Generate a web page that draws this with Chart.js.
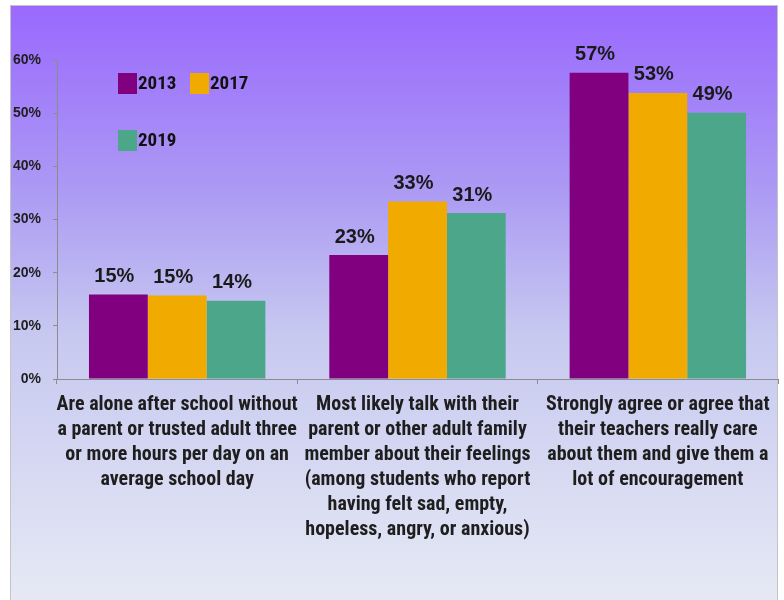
<!DOCTYPE html>
<html>
<head>
<meta charset="utf-8">
<script src="https://cdn.jsdelivr.net/npm/chart.js@4/dist/chart.umd.min.js"></script>
<style>
  html, body { margin: 0; padding: 0; background: #fff; }
  #wrap { width: 784px; height: 600px; position: relative; }
</style>
</head>
<body>
<div id="wrap"><canvas id="chart" width="784" height="600"></canvas></div>
<script>
const categories = [
  ['Are alone after school without', 'a parent or trusted adult three', 'or more hours per day on an', 'average school day'],
  ['Most likely talk with their', 'parent or other adult family', 'member about their feelings', '(among students who report', 'having felt sad, empty,', 'hopeless, angry, or anxious)'],
  ['Strongly agree or agree that', 'their teachers really care', 'about them and give them a', 'lot of encouragement']
];
const years = ['2013', '2017', '2019'];
const values2013 = [15.9, 23.3, 57.6];
const values2017 = [15.7, 33.4, 53.8];
const values2019 = [14.7, 31.2, 50.1];
// printed labels as they appear above the bars
const labels2013 = ['15%', '23%', '57%'];
const labels2017 = ['15%', '33%', '53%'];
const labels2019 = ['14%', '31%', '49%'];
const barColors = ['#800080', '#f0aa00', '#4ca68a'];

const narrow = "'Liberation Sans Narrow', 'Arial Narrow', 'Roboto Condensed', 'Liberation Sans', sans-serif";
const wide = "'Liberation Sans', Arial, sans-serif";

const panelBg = {
  id: 'panelBg',
  beforeDraw(chart) {
    const c = chart.ctx;
    c.save();
    c.fillStyle = '#fff';
    c.fillRect(0, 0, chart.width, chart.height);
    const g = c.createLinearGradient(0, 5, 0, 600);
    g.addColorStop(0, '#9a68fe');
    g.addColorStop(0.3, '#ab98f4');
    g.addColorStop(0.55, '#c6c8f0');
    g.addColorStop(1, '#e6e9f4');
    c.fillStyle = g;
    c.fillRect(10, 5, 768, 595);
    c.strokeStyle = '#c4c4c4';
    c.lineWidth = 1;
    c.strokeRect(10.5, 5.5, 767, 600);
    c.restore();
  }
};

const barLabels = {
  id: 'barLabels',
  afterDatasetsDraw(chart) {
    const c = chart.ctx;
    const texts = [labels2013, labels2017, labels2019];
    c.save();
    c.font = "bold 20px " + wide;
    c.fillStyle = '#1a1a1a';
    c.textAlign = 'center';
    c.textBaseline = 'bottom';
    chart.data.datasets.forEach((ds, i) => {
      chart.getDatasetMeta(i).data.forEach((bar, j) => {
        c.fillText(texts[i][j], bar.x - 4, bar.y - 8);
      });
    });
    c.restore();
  }
};

const boxLegend = {
  id: 'boxLegend',
  afterDraw(chart) {
    const c = chart.ctx;
    const spots = [[118, 73], [190, 73], [118, 130]];
    c.save();
    c.font = "bold 19px " + narrow;
    c.textBaseline = 'middle';
    chart.data.datasets.forEach((ds, i) => {
      const [x, y] = spots[i];
      c.fillStyle = ds.backgroundColor;
      c.fillRect(x, y, 19, 21);
      c.fillStyle = '#111';
      c.fillText(ds.label, x + 20, y + 11);
    });
    c.restore();
  }
};

new Chart(document.getElementById('chart'), {
  type: 'bar',
  plugins: [panelBg, barLabels, boxLegend],
  data: {
    labels: categories,
    datasets: [
      { label: years[0], data: values2013, backgroundColor: barColors[0] },
      { label: years[1], data: values2017, backgroundColor: barColors[1] },
      { label: years[2], data: values2019, backgroundColor: barColors[2] }
    ]
  },
  options: {
    responsive: false,
    animation: false,
    layout: { padding: { top: 60, left: 10, right: 6, bottom: 0 } },
    datasets: { bar: { categoryPercentage: 0.734, barPercentage: 1.0, borderWidth: 0 } },
    plugins: { legend: { display: false }, tooltip: { enabled: false } },
    scales: {
      x: {
        afterFit: s => { s.height = 221; },
        border: { color: '#8c8c8c', width: 1 },
        grid: { drawOnChartArea: false, tickLength: 5, color: '#8c8c8c', offset: true },
        ticks: {
          color: '#1e1e1e',
          font: { family: narrow, size: 20, weight: 'bold', lineHeight: 1.25 },
          maxRotation: 0, autoSkip: false, padding: 8
        }
      },
      y: {
        min: 0, max: 60,
        afterFit: s => { s.width = 47; },
        border: { color: '#8c8c8c', width: 1 },
        grid: { drawOnChartArea: false, tickLength: 4, color: '#8c8c8c' },
        ticks: {
          stepSize: 10,
          color: '#1e1e1e',
          font: { family: wide, size: 14, weight: 'bold' },
          padding: 12,
          callback: v => v + '%'
        }
      }
    }
  }
});
</script>
</body>
</html>
